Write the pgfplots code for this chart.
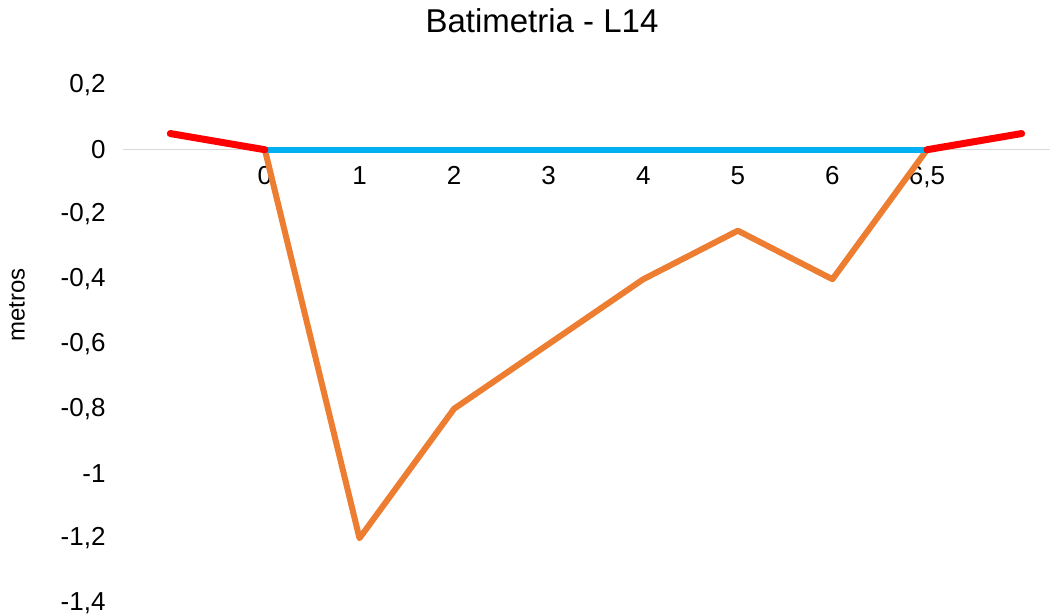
\documentclass[border=0pt]{standalone}
\usepackage{fontspec}
\setmainfont{Liberation Sans}
\usepackage{pgfplots}
\pgfplotsset{compat=1.18}
\definecolor{rojo}{HTML}{FF0000}
\definecolor{celeste}{HTML}{00B0F0}
\definecolor{naranja}{HTML}{ED7D31}
\definecolor{grilla}{HTML}{D9D9D9}
\begin{document}
\begin{tikzpicture}[x=1bp,y=1bp]
\useasboundingbox (0,0) rectangle (1050,616);
\begin{axis}[
  at={(123bp,13bp)}, anchor=south west,
  scale only axis, width=927bp, height=518bp,
  xmin=-0.5, xmax=9.3, ymin=-1.4, ymax=0.2,
  axis x line*=middle,
  axis y line*=left,
  x axis line style={grilla, line width=1.3bp},
  y axis line style={draw=none},
  major tick length=0pt,
  xtick={1,2,3,4,5,6,7,8},
  xticklabels={0,1,2,3,4,5,6,{6,5}},
  ytick={-1.4,-1.2,-1,-0.8,-0.6,-0.4,-0.2,0,0.2},
  yticklabels={{-1,4},{-1,2},-1,{-0,8},{-0,6},{-0,4},{-0,2},0,{0,2}},
  xticklabel style={font=\fontsize{26bp}{30bp}\selectfont, yshift=-13bp},
  yticklabel style={font=\fontsize{26bp}{30bp}\selectfont, xshift=-14bp},
  title={Batimetria - L14},
  title style={font=\fontsize{33bp}{38bp}\selectfont, at={(axis description cs:0.452,1.112)}, anchor=center},
  ylabel={metros},
  ylabel style={font=\fontsize{24bp}{28bp}\selectfont, at={(axis description cs:-0.1143,0.575)}, anchor=center},
  every axis plot/.append style={line cap=round, line join=round},
]
% perfil del fondo
\addplot[naranja, line width=6bp] coordinates {
  (1,0) (2,-1.2) (3,-0.8) (4,-0.6) (5,-0.4) (6,-0.25) (7,-0.4) (8,0)
};
% superficie del agua
\addplot[celeste, line width=6bp] coordinates {
  (1,0) (2,0) (3,0) (4,0) (5,0) (6,0) (7,0) (8,0)
};
% margenes
\addplot[rojo, line width=7bp] coordinates {(0,0.05) (1,0)};
\addplot[rojo, line width=7bp] coordinates {(8,0) (9,0.05)};
\end{axis}
\end{tikzpicture}
\end{document}
